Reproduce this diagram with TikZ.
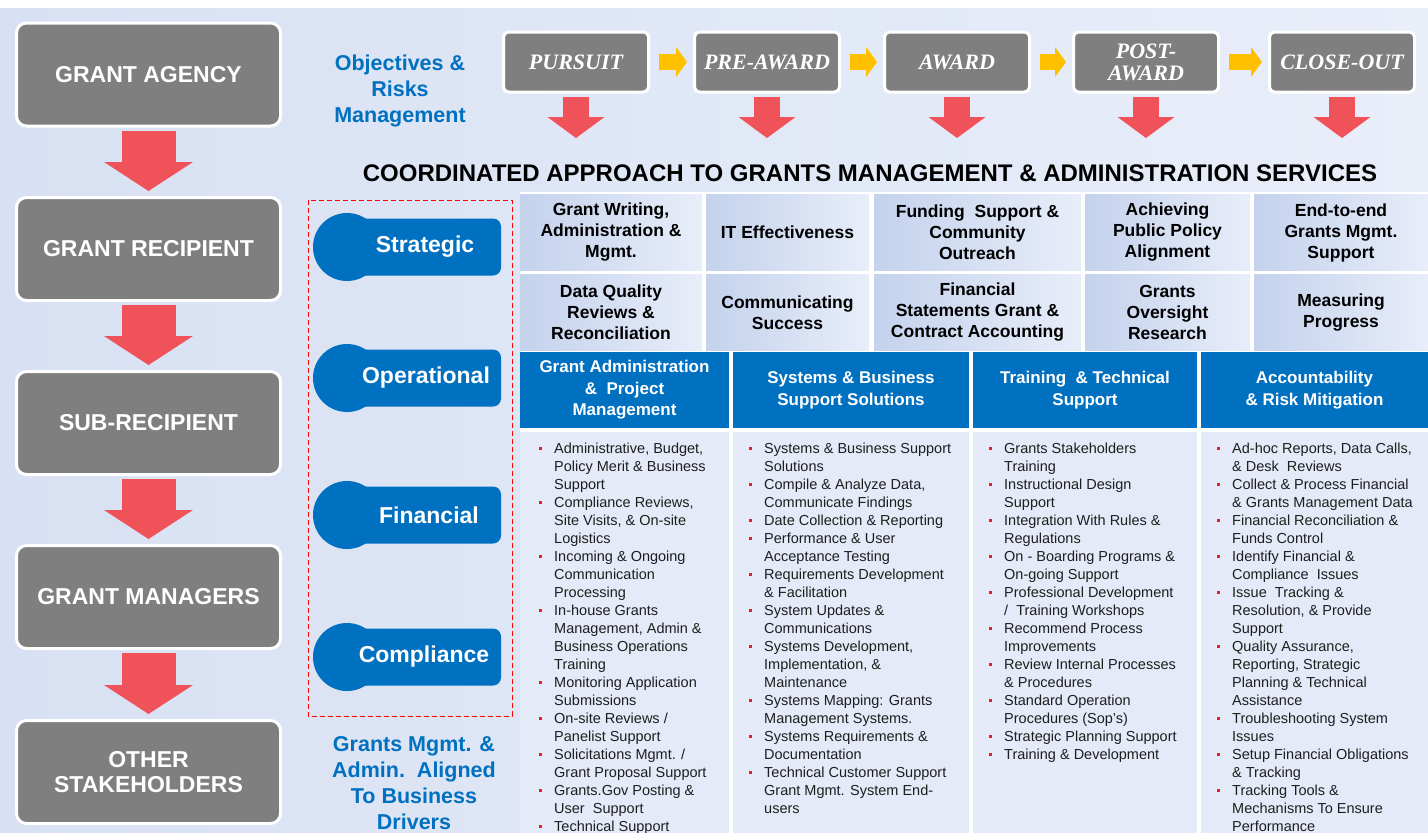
\documentclass[tikz,border=0pt]{standalone}
\usepackage{fontspec}
\setmainfont{Liberation Sans}
\newfontfamily\stagefont{Liberation Serif}
\usetikzlibrary{arrows.meta}

\newcommand{\bul}{\makebox[0pt][r]{\textcolor{bulletred}{\rule[3pt]{3pt}{3pt}}\hspace{12pt}}}

\begin{document}
\begin{tikzpicture}[x=1pt, y=-1pt,
  greybox/.style={draw=white, line width=3pt, fill=boxgrey, rounded corners=10pt, minimum width=264pt, minimum height=103pt, inner sep=0pt, align=center, text=white, font=\fontsize{23}{25}\selectfont\bfseries},
  stagebox/.style={draw=white, line width=3pt, fill=boxgrey, rounded corners=5pt, minimum width=145pt, minimum height=60pt, inner sep=0pt, align=center, text=white, font=\stagefont\bfseries\itshape\fontsize{22}{22}\selectfont},
  downarrow/.style={draw=arrowred, line width=54pt, -{Triangle[width=89pt, length=29pt, line width=0pt]}, shorten <=3pt, shorten >=5pt},
  stagearrow/.style={draw=arrowred, line width=26pt, -{Triangle[width=57pt, length=21pt, line width=0pt]}, shorten <=3pt},
  nextarrow/.style={draw=arrowyellow, line width=16pt, -{Triangle[width=30pt, length=11pt, line width=0pt]}, shorten <=9pt, shorten >=6pt},
  bluetext/.style={text=drivblue, align=center, inner sep=0pt, font=\fontsize{21.5}{26}\selectfont\bfseries},
  titletext/.style={inner sep=0pt, font=\fontsize{24}{28}\selectfont\bfseries},
  dashframe/.style={draw=red, line width=1pt, dash pattern=on 5pt off 3pt},
  pill/.style={fill=drivblue},
  pilltext/.style={text=white, inner sep=0pt, font=\fontsize{23}{25}\selectfont\bfseries},
  cell/.style={left color=cellleft, right color=cellright, minimum height=76pt, inner sep=0pt, align=center, font=\fontsize{17.5}{21}\selectfont\bfseries},
  header/.style={fill=drivblue, minimum height=76pt, inner sep=0pt, align=center, text=white, font=\fontsize{17}{21.5}\selectfont\bfseries},
  column/.style={fill=bodyblue, minimum height=408pt, inner sep=0pt},
  bodytext/.style={anchor=north west, align=left, inner sep=0pt, text=bodyink, font=\fontsize{14.5}{18}\selectfont}
]
\useasboundingbox (0,0) rectangle (1428,833);

% Define colors
\definecolor{boxgrey}{RGB}{127,127,127}
\definecolor{arrowred}{RGB}{240,82,90}
\definecolor{arrowyellow}{RGB}{255,192,0}
\definecolor{drivblue}{RGB}{0,112,192}
\definecolor{bgleft}{RGB}{216,225,243}
\definecolor{bgright}{RGB}{233,238,249}
\definecolor{cellleft}{RGB}{196,210,237}
\definecolor{cellright}{RGB}{232,237,249}
\definecolor{bodyblue}{RGB}{228,234,247}
\definecolor{bulletred}{RGB}{230,30,40}
\definecolor{bodyink}{RGB}{30,30,30}

% Background
\fill[white] (0,0) rectangle (1428,833);
\shade[left color=bgleft, right color=bgright] (0,8) rectangle (1428,833);

% Left column boxes
\node[greybox] (agency) at (148.5,74.5) {GRANT AGENCY};
\node[greybox] (recipient) at (148.5,249) {GRANT RECIPIENT};
\node[greybox] (subrecipient) at (148.5,423) {SUB-RECIPIENT};
\node[greybox] (managers) at (148.5,597) {GRANT MANAGERS};
\node[greybox] (others) at (148.5,772) {OTHER\\STAKEHOLDERS};

% Red arrows down the left column
\draw[downarrow] (agency.south) -- (recipient.north);
\draw[downarrow] (recipient.south) -- (subrecipient.north);
\draw[downarrow] (subrecipient.south) -- (managers.north);
\draw[downarrow] (managers.south) -- (others.north);

% Stage boxes
\node[stagebox] (pursuit) at (576,62) {PURSUIT};
\node[stagebox] (preaward) at (767,62) {PRE-AWARD};
\node[stagebox] (award) at (957,62) {AWARD};
\node[stagebox] (postaward) at (1146,62) {POST-\\AWARD};
\node[stagebox] (closeout) at (1342,62) {CLOSE-OUT};

% Yellow arrows between the stages
\draw[nextarrow] (pursuit.east) -- (preaward.west);
\draw[nextarrow] (preaward.east) -- (award.west);
\draw[nextarrow] (award.east) -- (postaward.west);
\draw[nextarrow] (postaward.east) -- (closeout.west);

% Red arrows below the stages
\coordinate (pursuit-tip) at (576,138);
\coordinate (preaward-tip) at (767,138);
\coordinate (award-tip) at (957,138);
\coordinate (postaward-tip) at (1146,138);
\coordinate (closeout-tip) at (1342,138);
\draw[stagearrow] (pursuit.south) -- (pursuit-tip);
\draw[stagearrow] (preaward.south) -- (preaward-tip);
\draw[stagearrow] (award.south) -- (award-tip);
\draw[stagearrow] (postaward.south) -- (postaward-tip);
\draw[stagearrow] (closeout.south) -- (closeout-tip);

% Headings
\node[bluetext] (objectives) at (400,90.5) {Objectives \&\\Risks\\Management};
\node[titletext, anchor=base] (title) at (870,181) {COORDINATED APPROACH TO GRANTS MANAGEMENT \& ADMINISTRATION SERVICES};

% Business drivers
\draw[dashframe] (308,200) rectangle (512,716);
\fill[pill] (347,247) circle (34);
\fill[pill, rounded corners=8pt] (335,218.5) rectangle (501,275.5);
\node[pilltext] (strategic) at (425,247) {Strategic};
\fill[pill] (347,378) circle (34);
\fill[pill, rounded corners=8pt] (335,349.5) rectangle (501,406.5);
\node[pilltext] (operational) at (426,378) {Operational};
\fill[pill] (347,515) circle (34);
\fill[pill, rounded corners=8pt] (335,486.5) rectangle (501,543.5);
\node[pilltext] (financial) at (429,515) {Financial};
\fill[pill] (347,657) circle (34);
\fill[pill, rounded corners=8pt] (335,628.5) rectangle (501,685.5);
\node[pilltext] (compliance) at (424,657) {Compliance};
\node[bluetext] (drivers) at (414,783) {Grants Mgmt. \&\\Admin.\ \ Aligned\\To Business\\Drivers};

% Service cells
\fill[white] (520,192) rectangle (1428,840);
\node[cell, minimum width=182pt] (writing) at (611,232.5) {Grant Writing,\\Administration \&\\Mgmt.};
\node[cell, minimum width=163pt] (itfx) at (787.5,232.5) {IT Effectiveness};
\node[cell, minimum width=207pt] (funding) at (977.5,232.5) {Funding\ \ Support \&\\Community\\Outreach};
\node[cell, minimum width=165pt] (policy) at (1167.5,232.5) {Achieving\\Public Policy\\Alignment};
\node[cell, minimum width=174pt] (endtoend) at (1341,232.5) {End-to-end\\Grants Mgmt.\\Support};
\node[cell, minimum width=182pt] (dataquality) at (611,312.5) {Data Quality\\Reviews \&\\Reconciliation};
\node[cell, minimum width=163pt] (communicating) at (787.5,312.5) {Communicating\\Success};
\node[cell, minimum width=207pt] (statements) at (977.5,312.5) {Financial\\Statements Grant \&\\Contract Accounting};
\node[cell, minimum width=165pt] (oversight) at (1167.5,312.5) {Grants\\Oversight\\Research};
\node[cell, minimum width=174pt] (measuring) at (1341,312.5) {Measuring\\Progress};

% Column headers
\node[header, minimum width=209pt] (hadmin) at (624.5,390) {Grant Administration\\\&\ \ Project\\Management};
\node[header, minimum width=236pt] (hsystems) at (851,390) {Systems \& Business\\Support Solutions};
\node[header, minimum width=224pt] (htraining) at (1085,390) {Training\ \ \& Technical\\Support};
\node[header, minimum width=227pt] (haccount) at (1314.5,390) {Accountability\\\& Risk Mitigation};

% Column bodies
\node[column, minimum width=209pt] (badmin) at (624.5,636) {};
\node[column, minimum width=236pt] (bsystems) at (851,636) {};
\node[column, minimum width=224pt] (btraining) at (1085,636) {};
\node[column, minimum width=227pt] (baccount) at (1314.5,636) {};

% Bullet lists
\node[bodytext] (ladmin) at (554,440.4) {\strut\bul Administrative, Budget,\\
Policy Merit \& Business\\
Support\\
\bul Compliance Reviews,\\
Site Visits, \& On-site\\
Logistics\\
\bul Incoming \& Ongoing\\
Communication\\
Processing\\
\bul In-house Grants\\
Management, Admin \&\\
Business Operations\\
Training\\
\bul Monitoring Application\\
Submissions\\
\bul On-site Reviews /\\
Panelist Support\\
\bul Solicitations Mgmt. /\\
Grant Proposal Support\\
\bul Grants.Gov Posting \&\\
User\ \ Support\\
\bul Technical Support};

\node[bodytext] (lsystems) at (764,440.4) {\strut\bul Systems \& Business Support\\
Solutions\\
\bul Compile \& Analyze Data,\\
Communicate Findings\\
\bul Date Collection \& Reporting\\
\bul Performance \& User\\
Acceptance Testing\\
\bul Requirements Development\\
\& Facilitation\\
\bul System Updates \&\\
Communications\\
\bul Systems Development,\\
Implementation, \&\\
Maintenance\\
\bul Systems Mapping: Grants\\
Management Systems.\\
\bul Systems Requirements \&\\
Documentation\\
\bul Technical Customer Support\\
Grant Mgmt. System End-\\
users};

\node[bodytext] (ltraining) at (1004,440.4) {\strut\bul Grants Stakeholders\\
Training\\
\bul Instructional Design\\
Support\\
\bul Integration With Rules \&\\
Regulations\\
\bul On - Boarding Programs \&\\
On-going Support\\
\bul Professional Development\\
/\ \ Training Workshops\\
\bul Recommend Process\\
Improvements\\
\bul Review Internal Processes\\
\& Procedures\\
\bul Standard Operation\\
Procedures (Sop's)\\
\bul Strategic Planning Support\\
\bul Training \& Development};

\node[bodytext] (laccount) at (1232,440.4) {\strut\bul Ad-hoc Reports, Data Calls,\\
\& Desk\ \ Reviews\\
\bul Collect \& Process Financial\\
\& Grants Management Data\\
\bul Financial Reconciliation \&\\
Funds Control\\
\bul Identify Financial \&\\
Compliance\ \ Issues\\
\bul Issue\ \ Tracking \&\\
Resolution, \& Provide\\
Support\\
\bul Quality Assurance,\\
Reporting, Strategic\\
Planning \& Technical\\
Assistance\\
\bul Troubleshooting System\\
Issues\\
\bul Setup Financial Obligations\\
\& Tracking\\
\bul Tracking Tools \&\\
Mechanisms To Ensure\\
Performance};

\end{tikzpicture}
\end{document}
